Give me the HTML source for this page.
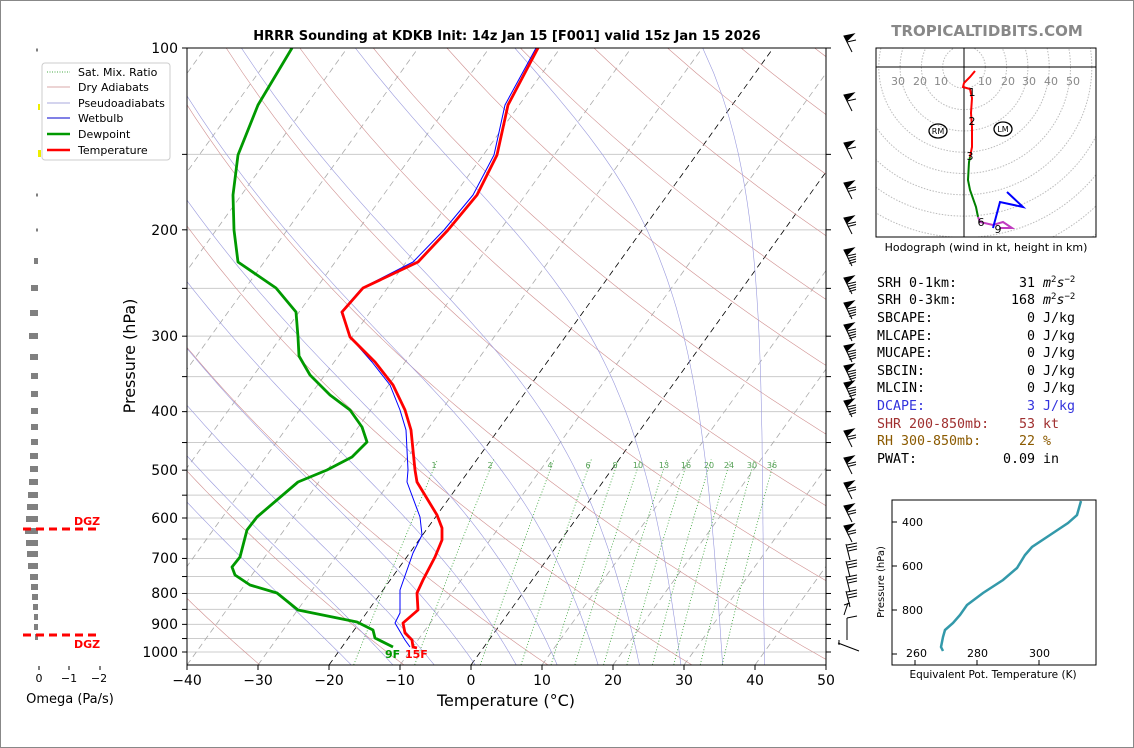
<!DOCTYPE html>
<html><head><meta charset="utf-8"><style>
body{margin:0;background:#fff;}
svg{display:block;font-family:"DejaVu Sans","Liberation Sans",sans-serif;}
</style></head><body>
<svg id="s" width="1134" height="748" viewBox="0 0 1134 748" xmlns="http://www.w3.org/2000/svg">
<rect x="0.5" y="0.5" width="1133" height="747" fill="#fff" stroke="#888"/>
<defs><clipPath id="cp"><rect x="187" y="48" width="639" height="617"/></clipPath>
<clipPath id="hc"><rect x="876" y="48" width="220" height="189"/></clipPath></defs>
<g id="bg" clip-path="url(#cp)"></g>
<g clip-path="url(#cp)" fill="none" stroke-linejoin="round">
<polyline stroke="#0000ff" stroke-width="1" points="536,48 505,105 494,155 473,195 444,230 413,262 362,288 341,312 350,337 372,362 390,385 400,410 406,430 408,470 407,482 420,517 422,535 413,553 400,590 400,613 395,623 405,640 410,647"/>
<polyline stroke="#009900" stroke-width="2.8" points="292,48 258,105 238,155 233,195 234,230 238,262 276,288 296,312 298,337 299,356 310,375 330,395 350,410 362,427 367,442 352,457 327,470 298,482 257,517 247,530 240,557 232,567 235,575 250,585 277,593 298,610 357,622 373,630 375,638 393,647"/>
<polyline stroke="#ff0000" stroke-width="2.8" points="538,48 508,105 497,155 477,195 448,230 418,262 363,288 342,312 350,337 375,362 393,385 405,410 411,430 415,470 417,482 437,515 442,528 442,540 435,557 423,580 417,593 418,610 403,623 405,633 412,640 413,647 417,648"/>
</g>
<text x="385" y="658" font-size="11" font-weight="bold" fill="#009900">9F</text>
<text x="405" y="658" font-size="11" font-weight="bold" fill="#ff0000">15F</text>
<rect x="187" y="48" width="639" height="617" fill="none" stroke="#000" stroke-width="1"/>
<g id="ticks" stroke="#000"></g>
<g font-size="14" text-anchor="end" fill="#000">
<text x="178" y="53">100</text><text x="178" y="235">200</text><text x="178" y="341">300</text><text x="178" y="416">400</text><text x="178" y="475">500</text><text x="178" y="523">600</text><text x="178" y="563">700</text><text x="178" y="598">800</text><text x="178" y="629">900</text><text x="178" y="657">1000</text>
</g>
<g font-size="14" text-anchor="middle" fill="#000">
<text x="187" y="685">−40</text><text x="258" y="685">−30</text><text x="329" y="685">−20</text><text x="400" y="685">−10</text><text x="471" y="685">0</text><text x="542" y="685">10</text><text x="613" y="685">20</text><text x="684" y="685">30</text><text x="755" y="685">40</text><text x="826" y="685">50</text>
<text x="506" y="706" font-size="16">Temperature (°C)</text>
</g>
<text transform="translate(135,356) rotate(-90)" font-size="16" text-anchor="middle">Pressure (hPa)</text>
<text x="507" y="40" font-size="13" font-weight="bold" text-anchor="middle">HRRR Sounding at KDKB Init: 14z Jan 15 [F001] valid 15z Jan 15 2026</text>
<g font-size="8" fill="#55a055" text-anchor="middle">
<text x="434" y="468">1</text><text x="490" y="468">2</text><text x="550" y="468">4</text><text x="588" y="468">6</text><text x="615" y="468">8</text><text x="638" y="468">10</text><text x="664" y="468">13</text><text x="686" y="468">16</text><text x="709" y="468">20</text><text x="729" y="468">24</text><text x="752" y="468">30</text><text x="772" y="468">36</text>
</g>
<!-- legend -->
<rect x="42" y="63" width="128" height="97" rx="3" fill="#fff" stroke="#ccc"/>
<g font-size="11" fill="#000">
<line x1="47" y1="72" x2="70" y2="72" stroke="#4a4" stroke-dasharray="1,1.5"/><text x="78" y="76">Sat. Mix. Ratio</text>
<line x1="47" y1="87" x2="70" y2="87" stroke="#d8a8a8"/><text x="78" y="91">Dry Adiabats</text>
<line x1="47" y1="103" x2="70" y2="103" stroke="#aaaadd"/><text x="78" y="107">Pseudoadiabats</text>
<line x1="47" y1="118" x2="70" y2="118" stroke="#00c"/><text x="78" y="122">Wetbulb</text>
<line x1="47" y1="134" x2="70" y2="134" stroke="#009900" stroke-width="2.5"/><text x="78" y="138">Dewpoint</text>
<line x1="47" y1="150" x2="70" y2="150" stroke="#f00" stroke-width="2.5"/><text x="78" y="154">Temperature</text>
</g>
<!-- omega -->
<g id="om" fill="#808080"></g>
<rect x="38" y="104" width="2" height="6" fill="#ee0"/><rect x="38" y="150" width="3" height="7" fill="#ee0"/>
<g stroke="#f00" stroke-width="3" stroke-dasharray="8,5"><line x1="23" y1="529" x2="99" y2="529"/><line x1="23" y1="635" x2="99" y2="635"/></g>
<g font-size="11" font-weight="bold" fill="#f00"><text x="74" y="525">DGZ</text><text x="74" y="648">DGZ</text></g>
<g stroke="#000"><line x1="39" y1="666" x2="39" y2="670"/><line x1="69" y1="666" x2="69" y2="670"/><line x1="100" y1="666" x2="100" y2="670"/></g>
<g font-size="11" text-anchor="middle"><text x="39" y="682">0</text><text x="69" y="682">−1</text><text x="99" y="682">−2</text></g>
<text x="70" y="703" font-size="13" text-anchor="middle">Omega (Pa/s)</text>
<!-- barbs -->
<g id="barbs" stroke="#000" fill="#000" stroke-width="1"></g>
<!-- hodograph -->
<text x="987" y="36" font-size="15" font-weight="bold" fill="#888" text-anchor="middle">TROPICALTIDBITS.COM</text>
<g clip-path="url(#hc)" id="rings" fill="none" stroke="#bbb" stroke-dasharray="1.5,1.5"></g>
<rect x="876" y="48" width="220" height="189" fill="none" stroke="#000"/>
<line x1="876" y1="67" x2="1096" y2="67" stroke="#000"/><line x1="964" y1="48" x2="964" y2="237" stroke="#000"/>
<g font-size="11" fill="#888" text-anchor="middle"><text x="898" y="85">30</text><text x="920" y="85">20</text><text x="941" y="85">10</text><text x="985" y="85">10</text><text x="1008" y="85">20</text><text x="1029" y="85">30</text><text x="1051" y="85">40</text><text x="1073" y="85">50</text></g>
<g fill="none" stroke-width="2">
<polyline stroke="#f00" points="975,71 970,77 964,83 963,87 970,89 972,98 971,113 972,127 972,147 970,157"/>
<polyline stroke="#008000" points="970,157 969,162 968,180 970,190 976,207 978,217"/>
<polyline stroke="#c03cc0" points="978,217 980,222 993,225 1003,222 1012,228 1000,228"/>
<polyline stroke="#00f" points="993,228 1000,202 1023,207 1007,192"/>
</g>
<g font-size="11" text-anchor="middle"><text x="972" y="96">1</text><text x="972" y="125">2</text><text x="970" y="160">3</text><text x="981" y="226">6</text><text x="998" y="233">9</text></g>
<ellipse cx="938" cy="131" rx="9" ry="7" fill="none" stroke="#000" stroke-width="1.3"/><text x="938" y="134" font-size="8" text-anchor="middle">RM</text>
<ellipse cx="1003" cy="129" rx="9" ry="7" fill="none" stroke="#000" stroke-width="1.3"/><text x="1003" y="132" font-size="8" text-anchor="middle">LM</text>
<text x="986" y="251" font-size="11" text-anchor="middle">Hodograph (wind in kt, height in km)</text>
<!-- stats -->
<g font-family="'DejaVu Sans Mono','Liberation Mono',monospace" font-size="13.3">
<text x="877" y="287">SRH 0-1km:</text><text x="1035" y="287" text-anchor="end">31</text><text x="1043" y="287"><tspan font-style="italic">m</tspan><tspan font-size="9" dy="-5">2</tspan><tspan font-style="italic" dy="5">s</tspan><tspan font-size="9" dy="-5">−2</tspan></text>
<text x="877" y="304">SRH 0-3km:</text><text x="1035" y="304" text-anchor="end">168</text><text x="1043" y="304"><tspan font-style="italic">m</tspan><tspan font-size="9" dy="-5">2</tspan><tspan font-style="italic" dy="5">s</tspan><tspan font-size="9" dy="-5">−2</tspan></text>
<text x="877" y="322">SBCAPE:</text><text x="1035" y="322" text-anchor="end">0</text><text x="1043" y="322">J/kg</text>
<text x="877" y="340">MLCAPE:</text><text x="1035" y="340" text-anchor="end">0</text><text x="1043" y="340">J/kg</text>
<text x="877" y="357">MUCAPE:</text><text x="1035" y="357" text-anchor="end">0</text><text x="1043" y="357">J/kg</text>
<text x="877" y="375">SBCIN:</text><text x="1035" y="375" text-anchor="end">0</text><text x="1043" y="375">J/kg</text>
<text x="877" y="392">MLCIN:</text><text x="1035" y="392" text-anchor="end">0</text><text x="1043" y="392">J/kg</text>
<g fill="#3333dd"><text x="877" y="410">DCAPE:</text><text x="1035" y="410" text-anchor="end">3</text><text x="1043" y="410">J/kg</text></g>
<g fill="#a03030"><text x="877" y="428">SHR 200-850mb:</text><text x="1035" y="428" text-anchor="end">53</text><text x="1043" y="428">kt</text></g>
<g fill="#8b5a00"><text x="877" y="445">RH 300-850mb:</text><text x="1035" y="445" text-anchor="end">22</text><text x="1043" y="445">%</text></g>
<text x="877" y="463">PWAT:</text><text x="1035" y="463" text-anchor="end">0.09</text><text x="1043" y="463">in</text>
</g>
<!-- theta-e -->
<rect x="892" y="500" width="204" height="165" fill="none" stroke="#000"/>
<polyline fill="none" stroke="#3399aa" stroke-width="2.5" points="1081,501 1077,515 1068,523 1050,535 1032,547 1025,555 1017,568 1003,580 983,593 967,605 960,615 953,623 945,630 943,637 941,647 943,651"/>
<g stroke="#000"><line x1="892" y1="522" x2="897" y2="522"/><line x1="892" y1="566" x2="897" y2="566"/><line x1="892" y1="610" x2="897" y2="610"/><line x1="892" y1="654" x2="897" y2="654"/>
<line x1="915" y1="660" x2="915" y2="665"/><line x1="977" y1="660" x2="977" y2="665"/><line x1="1039" y1="660" x2="1039" y2="665"/></g>
<g font-size="11"><text x="902" y="526">400</text><text x="902" y="570">600</text><text x="902" y="614">800</text><text x="906" y="657">260</text><text x="967" y="657">280</text><text x="1029" y="657">300</text></g>
<text transform="translate(884,582) rotate(-90)" font-size="10" text-anchor="middle">Pressure (hPa)</text>
<text x="993" y="678" font-size="10.5" text-anchor="middle">Equivalent Pot. Temperature (K)</text>
</svg>
<script>
(function(){
var NS="http://www.w3.org/2000/svg";
function Y(p){return 48+Math.log10(p/100)*604;}
function X(T,y){return 187+(T+40)*7.1+(665-y)*0.72;}
function el(par,tag,at){var e=document.createElementNS(NS,tag);for(var k in at)e.setAttribute(k,at[k]);par.appendChild(e);return e;}
var bg=document.getElementById('bg');
var pl=[];for(var p=1050;p>=100;p-=10)pl.push(p);
for(var p=100;p<=1000;p+=50){var y=Y(p);el(bg,'line',{x1:187,x2:826,y1:y,y2:y,stroke:'#ccc','stroke-width':1});}
for(var T=-120;T<=50;T+=10){var c=(T==0||T==-20)?'#000':'#aaa';el(bg,'line',{x1:X(T,665),y1:665,x2:X(T,48),y2:48,stroke:c,'stroke-width':0.8,'stroke-dasharray':'6,4'});}
for(var th=240;th<=500;th+=20){var s='';pl.forEach(function(p){var T=th*Math.pow(p/1000,0.2857)-273.15;var y=Y(p);s+=X(T,y).toFixed(1)+','+y.toFixed(1)+' ';});el(bg,'polyline',{points:s,fill:'none',stroke:'#d09090','stroke-width':0.6});}
function es(T){return 6.112*Math.exp(17.67*(T-273.15)/(T-29.65));}
for(var t0=-20;t0<=44;t0+=6){var T=t0+273.15,s='',p=1050;
 var T1=T,pp=1000;while(pp<1050){var r=0.622*es(T1)/(pp-es(T1));var d=(287*T1+2.5e6*r)/(pp*(1004+2.5e6*2.5e6*r*0.622/(287*T1*T1)));T1+=d*1;pp+=1;}
 T=T1;p=1050;
 while(p>=100){var y=Y(p);s+=X(T-273.15,y).toFixed(1)+','+y.toFixed(1)+' ';for(var i=0;i<10;i++){var e=es(T);var r=0.622*e/(p-e);var d=(287*T+2.5e6*r)/(p*(1004+2.5e6*2.5e6*r*0.622/(287*T*T)));T-=d;p-=1;}}
 el(bg,'polyline',{points:s,fill:'none',stroke:'#9999dd','stroke-width':0.6});}
[1,2,4,6,8,10,13,16,20,24,30,36].forEach(function(w){var s='';for(var p=1050;p>=480;p-=10){var e=w*p/(622+w);var l=Math.log(e/6.112);var T=243.5*l/(17.67-l);var y=Y(p);s+=X(T,y).toFixed(1)+','+y.toFixed(1)+' ';}
 el(bg,'polyline',{points:s,fill:'none',stroke:'#33a033','stroke-width':0.8,'stroke-dasharray':'1,2'});});
var tk=document.getElementById('ticks');
for(var p=100;p<=1000;p+=50){var y=Y(p);el(tk,'line',{x1:182,x2:187,y1:y,y2:y});el(tk,'line',{x1:826,x2:831,y1:y,y2:y});}
for(var T=-40;T<=50;T+=10){var x=187+(T+40)*7.1;el(tk,'line',{x1:x,x2:x,y1:665,y2:670});}
var om=document.getElementById('om');
[[50,2],[195,2],[230,2],[261,4],[288,7],[313,8],[336,9],[357,8],[376,7],[394,7],[411,7],[427,7],[442,7],[456,8],[469,8],[482,9],[495,10],[507,11],[519,12],[531,13],[543,12],[554,11],[566,10],[577,8],[587,7],[597,6],[607,5],[617,4],[627,4],[637,3]].forEach(function(b){var h=b[0]<250?3:6;el(om,'rect',{x:38-b[1],y:b[0]-h/2,width:b[1],height:h});});
var bb=document.getElementById('barbs');
[38,97,145,185,220,252,280,305,327,348,368,385,403,433,460,485,508,528].forEach(function(y,i){
 el(bb,'line',{x1:852,y1:y+14,x2:844,y2:y-2});
 el(bb,'polygon',{points:(844)+','+(y-2)+' '+(854)+','+(y-4)+' '+(847)+','+(y+3)});
 var n=(i>4&&i<13)?4:(i<3?1:2);for(var k=0;k<n;k++){var yy=y+4+k*2.5;el(bb,'line',{x1:847+k*0.8,y1:yy,x2:856,y2:yy-2});}});
[548,565,580,595].forEach(function(y){el(bb,'line',{x1:850,y1:y+12,x2:846,y2:y-4});for(var k=0;k<3;k++){var yy=y-3+k*3;el(bb,'line',{x1:847+k*0.6,y1:yy,x2:857,y2:yy-2});}});
el(bb,'line',{x1:848,y1:603,x2:844,y2:615});el(bb,'line',{x1:844,y1:605,x2:850,y2:603});
el(bb,'line',{x1:847,y1:618,x2:847,y2:640});el(bb,'line',{x1:847,y1:618,x2:857,y2:616});
el(bb,'line',{x1:838,y1:643,x2:859,y2:651});el(bb,'line',{x1:839,y1:640,x2:839,y2:645});
var rg=document.getElementById('rings');
for(var k=1;k<=12;k++)el(rg,'circle',{cx:964,cy:67,r:21.3*k});
})();
</script>
</body></html>
